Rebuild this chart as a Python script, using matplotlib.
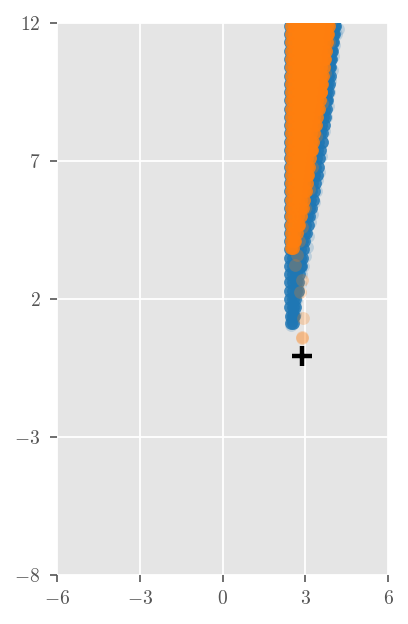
import numpy as np
import matplotlib
matplotlib.use("Agg")
import matplotlib.pyplot as plt
from matplotlib.ticker import FuncFormatter

# posterior samples, core of the band
blue_rows = [
    (1.15, [2.50, 2.56]),
    (1.40, [2.47, 2.55, 2.60]),
    (1.70, [2.46, 2.55, 2.62]),
    (2.00, [2.45, 2.55, 2.64]),
    (2.30, [2.45, 2.55, 2.66, 2.72]),
    (2.60, [2.45, 2.56, 2.67, 2.75]),
    (2.90, [2.45, 2.56, 2.68, 2.78]),
    (3.20, [2.45, 2.56, 2.68, 2.80, 2.84]),
    (3.50, [2.45, 2.57, 2.70, 2.82, 2.88]),
    (3.80, [2.45, 2.57, 2.70, 2.82, 2.92]),
    (4.10, [2.44, 2.62, 2.75, 2.87, 2.97]),
    (4.40, [2.44, 2.70, 2.82, 2.94, 3.03]),
    (4.70, [2.44, 2.76, 2.88, 3.00, 3.10]),
    (5.00, [2.44, 2.82, 2.94, 3.06, 3.15]),
    (5.30, [2.44, 2.88, 3.00, 3.12, 3.21]),
    (5.60, [2.44, 2.93, 3.05, 3.17, 3.27]),
    (5.90, [2.44, 2.98, 3.10, 3.22, 3.32]),
    (6.20, [2.44, 3.02, 3.14, 3.26, 3.37]),
    (6.50, [2.44, 3.06, 3.18, 3.30, 3.42]),
    (6.80, [2.44, 3.10, 3.22, 3.35, 3.47]),
    (7.10, [2.44, 3.14, 3.26, 3.38, 3.51]),
    (7.40, [2.44, 3.19, 3.31, 3.43, 3.55]),
    (7.70, [2.44, 3.24, 3.36, 3.48, 3.59]),
    (8.00, [2.44, 3.29, 3.41, 3.53, 3.62]),
    (8.30, [2.44, 3.34, 3.46, 3.58, 3.67]),
    (8.60, [2.44, 3.40, 3.52, 3.64, 3.71]),
    (8.90, [2.44, 3.46, 3.58, 3.68, 3.75]),
    (9.20, [2.44, 3.52, 3.64, 3.74, 3.79]),
    (9.50, [2.44, 3.55, 3.67, 3.77, 3.82]),
    (9.80, [2.44, 3.58, 3.70, 3.80, 3.85]),
    (10.10, [2.44, 3.62, 3.74, 3.84, 3.88]),
    (10.40, [2.44, 3.65, 3.77, 3.87, 3.91]),
    (10.70, [2.44, 3.69, 3.81, 3.90, 3.94]),
    (11.00, [2.44, 3.72, 3.84, 3.93, 3.97]),
    (11.30, [2.44, 3.76, 3.88, 3.96, 4.00]),
    (11.60, [2.44, 3.79, 3.91, 4.00, 4.03]),
    (11.90, [2.44, 3.82, 3.94, 4.03, 4.07]),
    (12.20, [2.44, 3.86, 3.98, 4.06, 4.10]),
    (12.50, [2.44, 3.89, 4.01, 4.09, 4.13]),
]

orange_rows = [
    (3.85, [2.48, 2.54]),
    (4.10, [2.48, 2.58, 2.62]),
    (4.40, [2.48, 2.60, 2.70]),
    (4.70, [2.48, 2.60, 2.72, 2.79]),
    (5.00, [2.48, 2.60, 2.72, 2.84]),
    (5.30, [2.48, 2.60, 2.72, 2.84, 2.91]),
    (5.60, [2.48, 2.60, 2.72, 2.84, 2.96]),
    (5.90, [2.48, 2.60, 2.72, 2.84, 2.96, 3.01]),
    (6.20, [2.48, 2.60, 2.72, 2.84, 2.96, 3.05]),
    (6.50, [2.48, 2.60, 2.72, 2.84, 2.96, 3.08, 3.10]),
    (6.80, [2.48, 2.60, 2.72, 2.84, 2.96, 3.08, 3.14]),
    (7.10, [2.48, 2.60, 2.72, 2.84, 2.96, 3.08, 3.18]),
    (7.40, [2.48, 2.60, 2.72, 2.84, 2.96, 3.08, 3.20, 3.23]),
    (7.70, [2.48, 2.60, 2.72, 2.84, 2.96, 3.08, 3.20, 3.28]),
    (8.00, [2.48, 2.60, 2.72, 2.84, 2.96, 3.08, 3.20, 3.32]),
    (8.30, [2.48, 2.60, 2.72, 2.84, 2.96, 3.08, 3.20, 3.32, 3.38]),
    (8.60, [2.48, 2.60, 2.72, 2.84, 2.96, 3.08, 3.20, 3.32, 3.44]),
    (8.90, [2.48, 2.60, 2.72, 2.84, 2.96, 3.08, 3.20, 3.32, 3.44, 3.50]),
    (9.20, [2.48, 2.60, 2.72, 2.84, 2.96, 3.08, 3.20, 3.32, 3.44, 3.55]),
    (9.50, [2.48, 2.60, 2.72, 2.84, 2.96, 3.08, 3.20, 3.32, 3.44, 3.56, 3.58]),
    (9.80, [2.48, 2.60, 2.72, 2.84, 2.96, 3.08, 3.20, 3.32, 3.44, 3.56, 3.62]),
    (10.10, [2.48, 2.60, 2.72, 2.84, 2.96, 3.08, 3.20, 3.32, 3.44, 3.56, 3.65]),
    (10.40, [2.48, 2.60, 2.72, 2.84, 2.96, 3.08, 3.20, 3.32, 3.44, 3.56, 3.68]),
    (10.70, [2.48, 2.60, 2.72, 2.84, 2.96, 3.08, 3.20, 3.32, 3.44, 3.56, 3.68, 3.72]),
    (11.00, [2.48, 2.60, 2.72, 2.84, 2.96, 3.08, 3.20, 3.32, 3.44, 3.56, 3.68, 3.76]),
    (11.30, [2.48, 2.60, 2.72, 2.84, 2.96, 3.08, 3.20, 3.32, 3.44, 3.56, 3.68, 3.79]),
    (11.60, [2.48, 2.60, 2.72, 2.84, 2.96, 3.08, 3.20, 3.32, 3.44, 3.56, 3.68, 3.80, 3.82]),
    (11.90, [2.48, 2.60, 2.72, 2.84, 2.96, 3.08, 3.20, 3.32, 3.44, 3.56, 3.68, 3.80, 3.86]),
    (12.20, [2.48, 2.60, 2.72, 2.84, 2.96, 3.08, 3.20, 3.32, 3.44, 3.56, 3.68, 3.80, 3.90]),
    (12.50, [2.48, 2.60, 2.72, 2.84, 2.96, 3.08, 3.20, 3.32, 3.44, 3.56, 3.68, 3.80, 3.92]),
]

# isolated, faint samples at the edges of the band
blue_faint_x = [2.50, 2.55, 2.62, 2.60, 2.68, 2.75, 2.80, 2.86, 2.92, 2.98, 3.05, 3.10,
                3.18, 3.25, 3.30, 3.38, 3.42, 3.50, 3.58, 3.62, 3.68, 3.74, 3.82, 3.86,
                3.90, 3.96, 4.00, 4.05, 4.12, 4.20, 4.15, 2.47, 2.52]
blue_faint_y = [1.05, 1.25, 1.45, 1.75, 1.95, 2.25, 2.55, 2.90, 3.20, 3.55, 3.90, 4.30,
                4.80, 5.10, 5.50, 5.90, 6.30, 6.60, 7.20, 7.70, 8.10, 8.60, 9.00, 9.50,
                9.90, 10.30, 10.80, 11.20, 11.60, 11.80, 12.20, 1.30, 1.55]

orange_faint_x = [2.63, 2.87, 2.81, 2.92, 2.88, 2.88, 2.70, 2.78, 2.90, 3.00, 3.12, 3.25,
                  3.40, 3.60, 3.72, 3.85, 3.95]
orange_faint_y = [3.25, 2.69, 2.25, 1.31, 0.59, 0.62, 3.60, 4.10, 4.60, 5.30, 6.00, 6.80,
                  7.90, 9.10, 10.20, 11.30, 12.10]

# true parameter
true_x = [2.88]
true_y = [-0.05]

x_ticks = [-6, -3, 0, 3, 6]
y_ticks = [-8, -3, 2, 7, 12]


def flatten(rows):
    xs, ys = [], []
    for y, row in rows:
        xs += row
        ys += [y] * len(row)
    return np.array(xs), np.array(ys)


blue_x, blue_y = flatten(blue_rows)
orange_x, orange_y = flatten(orange_rows)

plt.style.use("ggplot")
plt.rcParams["font.family"] = "serif"
plt.rcParams["mathtext.fontset"] = "cm"

fig = plt.figure(figsize=(4.08, 6.24), dpi=100)
ax = fig.add_axes([0.1397, 0.0785, 0.8113, 0.8845])

ax.scatter(blue_x, blue_y, s=85, color="#1f77b4", alpha=0.85, linewidths=0, zorder=2)
ax.scatter(blue_faint_x, blue_faint_y, s=85, color="#1f77b4", alpha=0.2, linewidths=0, zorder=2)
ax.scatter(orange_x, orange_y, s=85, color="#ff7f0e", alpha=0.85, linewidths=0, zorder=3)
ax.scatter(orange_faint_x, orange_faint_y, s=85, color="#ff7f0e", alpha=0.25, linewidths=0, zorder=3)
ax.plot(true_x, true_y, "+", color="black", markersize=15, mew=3.2, zorder=4)

ax.set_xlim(-6, 6)
ax.set_ylim(-8, 12)
ax.set_xticks(x_ticks)
ax.set_yticks(y_ticks)
fmt = FuncFormatter(lambda v, p: r"$%d$" % v)
ax.xaxis.set_major_formatter(fmt)
ax.yaxis.set_major_formatter(fmt)
ax.tick_params(labelsize=14, colors="#555555", length=5, width=1.2)
ax.tick_params(axis="x", pad=5.5)
ax.tick_params(axis="y", pad=7)
ax.grid(True, color="white", linewidth=1.3)
ax.set_axisbelow(True)
for sp in ax.spines.values():
    sp.set_visible(False)

fig.savefig("out.png", dpi=100)
